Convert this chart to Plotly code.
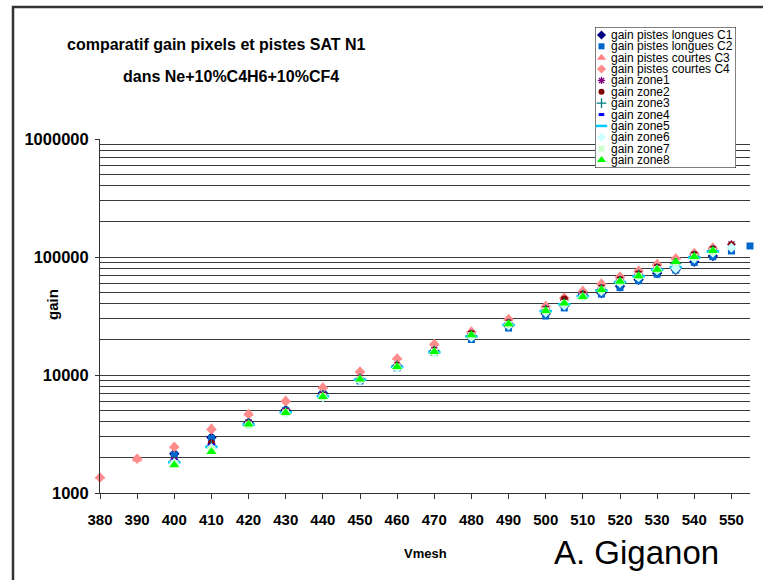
import plotly.graph_objects as go

# ---------------- data ----------------
V_C1 = [400, 410, 420, 430, 440, 450, 460, 470, 480, 490, 500, 505, 510, 515, 520, 525, 530, 535, 540, 545]
C1 = [2150, 2950, 3950, 5050, 7050, 9100, 12000, 16000, 21000, 26000, 33000, 38500, 48500, 49500, 56500, 64000, 73000, 78000, 91000, 102000]

V_C2 = [400, 410, 420, 430, 440, 450, 460, 470, 480, 490, 500, 505, 510, 515, 520, 525, 530, 535, 540, 545, 550, 555]
C2 = [2100, 2900, 3900, 5000, 6900, 8900, 11500, 15500, 20000, 25000, 31600, 37000, 47500, 48500, 55000, 63000, 71500, 77500, 90000, 100700, 112500, 124000]

V_C34 = [380, 390, 400, 410, 420, 430, 440, 450, 460, 470, 480, 490, 500, 505, 510, 515, 520, 525, 530, 535, 540, 545]
C3 = [1370, 1940, 2500, 3580, 4730, 6140, 7960, 10870, 14030, 18560, 23700, 30200, 39200, 46100, 52500, 60500, 69000, 77500, 88400, 98600, 109700, 122000]
C4 = [1350, 1950, 2450, 3450, 4650, 6000, 7800, 10600, 13700, 18200, 23200, 29500, 38000, 45000, 51000, 59000, 68000, 76000, 86000, 97000, 107000, 119000]

V_Z = [400, 410, 420, 430, 440, 450, 460, 470, 480, 490, 500, 505, 510, 515, 520, 525, 530, 535, 540, 545]
V_Z_EXT = [400, 410, 420, 430, 440, 450, 460, 470, 480, 490, 500, 505, 510, 515, 520, 525, 530, 535, 540, 545, 550]
Z1 = [1900, 2600, 3950, 4950, 6800, 9400, 12000, 16200, 22300, 27600, 36200, 43000, 48000, 54500, 64000, 71500, 81000, 90000, 104000, 116000, 128000]
Z2 = [1880, 2650, 3900, 4900, 6750, 9300, 12100, 16100, 22500, 27800, 36000, 44000, 48500, 55000, 64500, 72000, 82000, 91000, 105000, 117000, 127000]
Z3 = [1850, 2500, 3880, 4880, 6700, 9250, 11900, 15900, 21500, 26800, 35000, 40000, 47000, 53000, 62000, 70000, 79000, 88000, 101000, 113000]
Z4 = [1900, 2550, 3850, 4850, 6650, 9200, 11800, 15800, 21000, 26500, 34500, 39500, 47500, 51000, 60000, 68000, 77000, 86000, 98000, 110000]
Z5 = [1820, 2450, 3800, 4820, 6600, 9100, 11700, 15600, 21200, 26600, 34800, 39800, 46500, 52000, 61000, 68500, 78000, 82000, 99000, 111000]
Z6 = [1800, 2400, 3780, 4750, 6500, 9000, 11500, 15400, 21000, 26400, 34000, 39000, 45500, 51500, 60500, 67500, 77500, 80000, 97000, 109000, 120000]
Z7 = [1780, 2350, 3760, 4780, 6550, 9150, 11700, 15700, 21500, 26900, 35000, 40500, 46000, 52500, 61500, 68800, 78500, 89000, 100000, 112000]
Z8 = [1730, 2240, 3820, 4790, 6550, 9190, 11750, 15740, 21800, 27000, 35100, 40600, 46100, 52800, 62000, 69000, 78500, 91000, 100700, 113000]

NAMES = ["gain pistes longues C1", "gain pistes longues C2", "gain pistes courtes C3",
         "gain pistes courtes C4", "gain zone1", "gain zone2", "gain zone3", "gain zone4",
         "gain zone5", "gain zone6", "gain zone7", "gain zone8"]
XS = [V_C1, V_C2, V_C34, V_C34, V_Z_EXT, V_Z_EXT, V_Z, V_Z, V_Z, V_Z_EXT, V_Z, V_Z]
YS = [C1, C2, C3, C4, Z1, Z2, Z3, Z4, Z5, Z6, Z7, Z8]

X_TICKS = [380, 390, 400, 410, 420, 430, 440, 450, 460, 470, 480, 490, 500, 510, 520, 530, 540, 550]
Y_TICKS = [1000, 10000, 100000, 1000000]
Y_MINOR = [2000, 3000, 4000, 5000, 6000, 7000, 8000, 9000,
           20000, 30000, 40000, 50000, 60000, 70000, 80000, 90000,
           200000, 300000, 400000, 500000, 600000, 700000, 800000, 900000]

# ---------------- styles ----------------
COLORS = ["#000080", "#0066CC", "#FF8080", "#FF8C8C", "#800080", "#800000",
          "#008080", "#0000FF", "#00CCFF", "#CCFFFF", "#CCFFCC", "#00FF00"]
SYMBOLS = ["diamond", "square", "triangle-up", "diamond", "asterisk", "circle",
           "cross-thin", "line-ew", "line-ew", "diamond", "square", "triangle-up"]
SIZES = [8, 7, 9, 8, 7, 7, 8, 5, 9, 8, 7, 9]
LINE_W = [0, 0, 0, 0, 1.3, 0, 1.3, 3, 2.5, 0, 0, 0]

W, H = 763, 580
FONT = "Liberation Sans, Arial, sans-serif"


def px(x):
    return x / W


def py(y):
    return 1 - y / H


fig = go.Figure()

for i in range(len(NAMES)):
    fig.add_trace(go.Scatter(
        x=XS[i], y=YS[i], mode="markers", name=NAMES[i], showlegend=False,
        cliponaxis=False,
        marker=dict(symbol=SYMBOLS[i], size=SIZES[i], color=COLORS[i],
                    line=dict(color=COLORS[i], width=LINE_W[i])),
        xaxis="x", yaxis="y"))

# custom legend drawn in its own small axes (box first, then entries)
LEG_X = [0, 141]
LEG_Y = [-0.7, 11.7]
fig.add_trace(go.Scatter(
    x=[LEG_X[0], LEG_X[1], LEG_X[1], LEG_X[0], LEG_X[0]],
    y=[LEG_Y[0], LEG_Y[0], LEG_Y[1], LEG_Y[1], LEG_Y[0]],
    mode="lines", fill="toself", fillcolor="white",
    line=dict(color="black", width=1), showlegend=False, hoverinfo="skip",
    cliponaxis=False, xaxis="x2", yaxis="y2"))

ROWS = list(range(len(NAMES)))
for i in range(len(NAMES)):
    fig.add_trace(go.Scatter(
        x=[6.5], y=[ROWS[i]], mode="markers", showlegend=False, hoverinfo="skip",
        cliponaxis=False,
        marker=dict(symbol=SYMBOLS[i], size=SIZES[i] - 1, color=COLORS[i],
                    line=dict(color=COLORS[i], width=LINE_W[i])),
        xaxis="x2", yaxis="y2"))

annotations = []
for i in range(len(NAMES)):
    annotations.append(dict(x=14, y=ROWS[i], xref="x2", yref="y2", text=NAMES[i],
                            showarrow=False, xanchor="left", yanchor="middle",
                            font=dict(family=FONT, size=12, color="black")))

annotations += [
    dict(x=px(216), y=py(45), xref="paper", yref="paper", showarrow=False,
         text="comparatif gain pixels et pistes SAT N1", xanchor="center", yanchor="middle",
         font=dict(family=FONT, size=16, color="black", weight="bold")),
    dict(x=px(231), y=py(76), xref="paper", yref="paper", showarrow=False,
         text="dans Ne+10%C4H6+10%CF4", xanchor="center", yanchor="middle",
         font=dict(family=FONT, size=16, color="black", weight="bold")),
    dict(x=px(52), y=py(305), xref="paper", yref="paper", showarrow=False, textangle=-90,
         text="gain", xanchor="center", yanchor="middle",
         font=dict(family=FONT, size=15, color="black", weight="bold")),
    dict(x=px(425), y=py(553), xref="paper", yref="paper", showarrow=False,
         text="Vmesh", xanchor="center", yanchor="middle",
         font=dict(family=FONT, size=13, color="black", weight="bold")),
    dict(x=px(636), y=py(552), xref="paper", yref="paper", showarrow=False,
         text="A. Giganon", xanchor="center", yanchor="middle",
         font=dict(family=FONT, size=33, color="black")),
]

shapes = [
    dict(type="rect", xref="paper", yref="paper", x0=px(13), x1=1.05, y0=-0.05, y1=py(7),
         line=dict(color="#333333", width=2.5), fillcolor="rgba(0,0,0,0)", layer="above"),
]

fig.update_layout(
    width=W, height=H,
    margin=dict(l=0, r=0, t=0, b=0, autoexpand=False),
    paper_bgcolor="white", plot_bgcolor="rgba(0,0,0,0)",
    showlegend=False,
    font=dict(family=FONT, color="black"),
    xaxis=dict(domain=[px(100), px(750)], range=[380, 555], anchor="y",
               automargin=False,
               tickvals=X_TICKS, ticktext=[str(v) for v in X_TICKS],
               ticks="outside", ticklen=5, tickcolor="#333", showgrid=False,
               showline=True, linecolor="#333", linewidth=1, zeroline=False,
               ticklabelstandoff=8,
               tickfont=dict(family=FONT, size=15, color="black", weight="bold"),
               fixedrange=True),
    yaxis=dict(domain=[py(493), py(139)], type="log", range=[3, 6], anchor="x",
               automargin=False,
               tickvals=Y_TICKS, ticktext=[str(v) for v in Y_TICKS],
               ticks="outside", ticklen=4, tickcolor="#333",
               showgrid=True, gridcolor="#3a3a3a", gridwidth=1,
               minor=dict(tickvals=Y_MINOR, showgrid=True, gridcolor="#3a3a3a",
                          gridwidth=1, ticks=""),
               showline=True, linecolor="#333", linewidth=1, zeroline=False,
               ticklabelstandoff=3,
               tickfont=dict(family=FONT, size=16.5, color="black", weight="bold"),
               fixedrange=True),
    xaxis2=dict(domain=[px(595), px(736)], range=LEG_X, anchor="y2", visible=False,
                automargin=False, fixedrange=True),
    yaxis2=dict(domain=[py(168), py(27)], range=[LEG_Y[1], LEG_Y[0]], anchor="x2",
                automargin=False, visible=False, fixedrange=True),
    annotations=annotations,
    shapes=shapes,
)

fig.write_html("out.html")
